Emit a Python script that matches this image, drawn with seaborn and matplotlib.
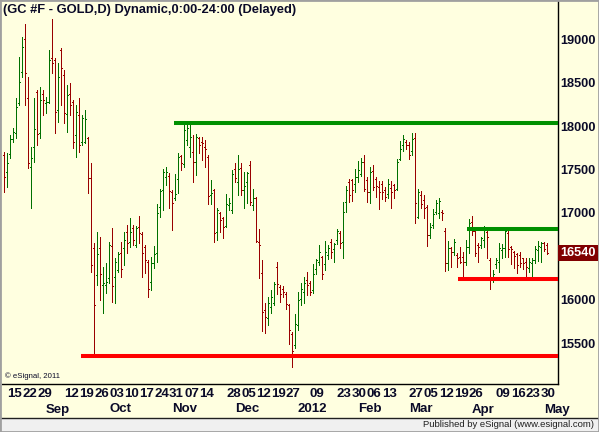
import numpy as np
import pandas as pd
import seaborn as sns
import matplotlib
matplotlib.use("Agg")
from matplotlib import pyplot as plt
from matplotlib import transforms
from matplotlib.patches import Rectangle
from matplotlib.lines import Line2D

# daily bars of GC #F (gold, price x10), 12 Aug 2011 - 2 May 2012
holidays = ["2011-09-05", "2011-11-24", "2011-12-26", "2012-01-02",
            "2012-01-16", "2012-02-20", "2012-04-06"]
dates = pd.date_range("2011-08-12", "2012-05-02",
                      freq=pd.offsets.CustomBusinessDay(holidays=holidays))

opens = [17666, 17474, 17674, 17851, 17916, 18261, 18626, 19003, 18319, 17532,
         17762, 18396, 17916, 18365, 18261, 18281, 18780, 18761, 18185, 18876,
         18588, 18135, 18365, 18281, 17897, 18127, 17812, 17820, 17858, 17397,
         16591, 16284, 16591, 16169, 16169, 16246, 16622, 16265, 16341, 16534,
         16591, 16783, 16668, 16821, 16630, 16840, 16756, 16610, 16437, 16199,
         16418, 16533, 17070, 17262, 17416, 17424, 17243, 17166, 17385, 17654,
         17558, 17838, 17762, 17704, 17589, 17858, 17819, 17762, 17646, 17205,
         17262, 16782, 16994, 16936, 16848, 17090, 17032, 17501, 17358, 17512,
         17262, 17358, 17550, 17090, 17166, 16667, 16302, 15880, 15784, 15918,
         15957, 16379, 16145, 16126, 16068, 15934, 15607, 15473, 15704, 16011,
         16087, 16222, 16195, 16107, 16356, 16433, 16491, 16414, 16510, 16663,
         16587, 16683, 16771, 16663, 17124, 17355, 17374, 17335, 17412, 17451,
         17585, 17374, 17240, 17477, 17393, 17297, 17335, 17259, 17220, 17286,
         17316, 17270, 17623, 17777, 17815, 17785, 17708, 17858, 16956, 17206,
         17148, 17071, 16745, 16860, 17006, 16994, 17014, 16791, 16418, 16591,
         16553, 16514, 16495, 16495, 16438, 16610, 16898, 16791, 16630, 16630,
         16687, 16783, 16457, 16227, 16407, 16430, 16572, 16591, 16764, 16610,
         16545, 16522, 16514, 16476, 16430, 16369, 16418, 16457, 16572, 16610,
         16649, 16630]
highs = [17705, 17685, 17897, 17973, 18319, 18799, 19029, 19171, 18569, 17762,
         18319, 18415, 18453, 18415, 18338, 18876, 19233, 18780, 18722, 18895,
         18645, 18473, 18492, 18300, 18242, 18319, 18127, 18185, 17877, 17570,
         16649, 16783, 16725, 16380, 16418, 16668, 16821, 16476, 16553, 16668,
         16783, 16860, 16937, 16860, 16852, 16963, 16782, 16629, 16456, 16494,
         16617, 17101, 17274, 17500, 17531, 17454, 17262, 17447, 17685, 17666,
         18030, 18038, 18011, 17896, 17908, 17877, 17869, 17838, 17666, 17378,
         17270, 17051, 17013, 16955, 17216, 17166, 17493, 17570, 17666, 17570,
         17474, 17474, 17596, 17270, 17178, 16813, 16456, 15964, 16034, 16110,
         16199, 16433, 16164, 16157, 16087, 15953, 15627, 15838, 16087, 16195,
         16260, 16318, 16210, 16414, 16471, 16633, 16502, 16671, 16625, 16702,
         16656, 16817, 16786, 17124, 17309, 17393, 17393, 17508, 17593, 17631,
         17662, 17412, 17527, 17547, 17412, 17362, 17362, 17297, 17385, 17362,
         17335, 17623, 17823, 17892, 17835, 17815, 17923, 17916, 17271, 17252,
         17206, 17090, 16879, 17044, 17148, 17167, 17033, 16822, 16676, 16610,
         16699, 16534, 16610, 16553, 16687, 16929, 16968, 16822, 16649, 16726,
         16852, 16814, 16484, 16342, 16484, 16649, 16637, 16802, 16791, 16622,
         16560, 16534, 16553, 16484, 16484, 16476, 16484, 16622, 16676, 16668,
         16668, 16649]
lows = [17244, 17301, 17628, 17820, 17858, 18242, 18569, 18242, 17513, 17052,
        17589, 17781, 17858, 18127, 18146, 18261, 18607, 17916, 18050, 18242,
        18031, 17935, 18127, 17743, 17647, 17705, 17781, 17801, 17225, 16322,
        15343, 16169, 15996, 15842, 16073, 16188, 15977, 15957, 16322, 16265,
        16399, 16534, 16610, 16630, 16610, 16648, 16264, 16302, 16034, 16110,
        16360, 16437, 16955, 17032, 17320, 17051, 16802, 17147, 17232, 17493,
        17531, 17781, 17646, 17358, 17435, 17685, 17608, 17531, 17097, 17097,
        16660, 16686, 16782, 16713, 16840, 17032, 16994, 17358, 17205, 17205,
        17051, 17109, 17090, 17032, 16667, 16245, 15642, 15611, 15707, 15842,
        15938, 16068, 15972, 16030, 15895, 15492, 15223, 15442, 15646, 15934,
        15964, 16049, 16049, 16080, 16299, 16395, 16241, 16337, 16471, 16479,
        16433, 16644, 16594, 16479, 17009, 17124, 17132, 17240, 17355, 17424,
        17247, 17124, 17117, 17259, 17182, 17047, 17155, 17132, 17170, 17055,
        17170, 17259, 17604, 17708, 17739, 17616, 17662, 16879, 16945, 17052,
        16937, 16622, 16706, 16822, 16983, 16937, 16918, 16330, 16342, 16380,
        16514, 16380, 16418, 16265, 16399, 16534, 16745, 16507, 16430, 16599,
        16610, 16476, 16123, 16200, 16361, 16315, 16484, 16495, 16495, 16407,
        16361, 16303, 16380, 16353, 16227, 16322, 16246, 16418, 16445, 16438,
        16560, 16530]
closes = [17417, 17570, 17851, 17935, 18223, 18511, 18914, 18607, 17570, 17628,
          17966, 17904, 18300, 18300, 18281, 18761, 18722, 18165, 18569, 18665,
          18146, 18357, 18242, 17820, 18165, 17781, 18089, 18081, 17405, 16399,
          15938, 16522, 16291, 16188, 16207, 16630, 16161, 16430, 16522, 16353,
          16687, 16649, 16783, 16687, 16821, 16763, 16533, 16456, 16122, 16418,
          16525, 16994, 17255, 17474, 17466, 17255, 17109, 17216, 17646, 17570,
          17954, 17973, 17877, 17589, 17877, 17781, 17808, 17731, 17193, 17224,
          16771, 17032, 16917, 16832, 17101, 17117, 17443, 17397, 17501, 17262,
          17308, 17454, 17128, 17166, 16675, 16625, 15861, 15803, 15964, 16034,
          16180, 16180, 16068, 16087, 15953, 15646, 15404, 15723, 15991, 16126,
          16195, 16172, 16087, 16299, 16452, 16548, 16299, 16548, 16594, 16548,
          16644, 16786, 16656, 17009, 17259, 17201, 17259, 17412, 17489, 17585,
          17278, 17240, 17470, 17297, 17309, 17240, 17240, 17182, 17335, 17240,
          17259, 17585, 17731, 17854, 17777, 17669, 17854, 17110, 17244, 17098,
          17052, 16745, 16841, 16983, 17110, 17136, 16994, 16418, 16591, 16553,
          16668, 16484, 16438, 16438, 16610, 16879, 16791, 16534, 16610, 16706,
          16822, 16726, 16227, 16292, 16457, 16599, 16599, 16791, 16584, 16584,
          16507, 16399, 16418, 16418, 16380, 16438, 16457, 16584, 16622, 16649,
          16584, 16540]

# support / resistance lines drawn on the chart
level_names = ["Nov high", "Sep low", "Mar range high", "Mar range low"]
level_prices = [18040, 15350, 16810, 16235]
level_start = ["2011-11-02", "2011-09-20", "2012-03-26", "2012-03-21"]
level_colors = ["#009000", "#ff0000", "#009000", "#ff0000"]

# axis labels
day_ticks = ["2011-08-15", "2011-08-22", "2011-08-29", "2011-09-12", "2011-09-19",
             "2011-09-26", "2011-10-03", "2011-10-10", "2011-10-17", "2011-10-24",
             "2011-10-31", "2011-11-07", "2011-11-14", "2011-11-28", "2011-12-05",
             "2011-12-12", "2011-12-19", "2011-12-27", "2012-01-09", "2012-01-23",
             "2012-01-30", "2012-02-06", "2012-02-13", "2012-02-27", "2012-03-05",
             "2012-03-12", "2012-03-19", "2012-03-26", "2012-04-09", "2012-04-16",
             "2012-04-23", "2012-04-30"]
month_labels = ["Sep", "Oct", "Nov", "Dec", "2012", "Feb", "Mar", "Apr", "May"]
month_at = ["2011-09-01", "2011-10-03", "2011-11-01", "2011-12-01", "2012-01-03",
            "2012-02-01", "2012-02-27", "2012-03-27", "2012-05-01"]
price_ticks = [15500, 16000, 16500, 17000, 17500, 18000, 18500, 19000]

bg = "#ffffe0"
up_col = "#007000"
down_col = "#990000"
txt_col = "#0a0a28"

sns.set_style("white", {"axes.facecolor": bg, "figure.facecolor": bg})
plt.rcParams["font.family"] = ["Liberation Sans", "DejaVu Sans"]
plt.rcParams["font.weight"] = "bold"

W, H = 599, 432
fig = plt.figure(figsize=(W / 100, H / 100), dpi=100)
ax = fig.add_axes([2 / W, 1 - 384 / H, 556 / W, 383 / H])

df = pd.DataFrame({"date": dates[:len(opens)], "open": opens, "high": highs,
                   "low": lows, "close": closes})
df["x"] = np.arange(len(df))
pos = {d: i for i, d in enumerate(df["date"].dt.strftime("%Y-%m-%d"))}
colors = np.where(df["close"] >= df["open"], up_col, down_col)

# OHLC bars, 1px wide
ax.vlines(df["x"], df["low"], df["high"], colors=colors, lw=0.6,
          antialiased=False, zorder=2)
ax.hlines(df["open"], df["x"] - 0.45, df["x"], colors=colors, lw=0.6,
          antialiased=False, zorder=2)
ax.hlines(df["close"], df["x"], df["x"] + 0.45, colors=colors, lw=0.6,
          antialiased=False, zorder=2)

xmax = 184.67
ax.set_xlim(-0.67, xmax)
ax.set_ylim(15028, 19440)

# horizontal levels
lev = pd.DataFrame({
    "level": level_names * 2,
    "x": [pos[d] - 0.5 for d in level_start] + [xmax] * len(level_names),
    "price": level_prices * 2,
})
sns.lineplot(data=lev, x="x", y="price", hue="level", palette=level_colors,
             hue_order=level_names, estimator=None, lw=2.9, legend=False,
             ax=ax, zorder=3, solid_capstyle="butt")

ax.set_xlabel("")
ax.set_ylabel("")

# axes frame
for s in ["top", "left"]:
    ax.spines[s].set_visible(False)
for s in ["right", "bottom"]:
    ax.spines[s].set_color("black")
    ax.spines[s].set_linewidth(1.0)

# the 16500 label sits under the last-price box, so it is not shown
ax.yaxis.tick_right()
ax.set_yticks(price_ticks)
ax.set_yticklabels(["" if p == 16500 else str(p) for p in price_ticks])
ax.tick_params(axis="y", length=0, pad=1.5, labelsize=9.2, labelcolor=txt_col)

ax.set_xticks([pos[d] for d in day_ticks])
ax.set_xticklabels([d[-2:] for d in day_ticks], ha="left")
ax.tick_params(axis="x", direction="in", length=3, width=0.8, color="black",
               pad=3.2, labelsize=9.5, labelcolor=txt_col)

trans = transforms.blended_transform_factory(ax.transData, fig.transFigure)
for lab, d in zip(month_labels, month_at):
    ax.text(pos[d], 1 - 409.5 / H, lab, transform=trans, ha="left", va="center",
            fontsize=9.5, color=txt_col, clip_on=False)

# last price box
tb = transforms.blended_transform_factory(fig.transFigure, ax.transData)
ax.text(560.5 / W, closes[-1], str(closes[-1]), transform=tb, ha="left",
        va="center", fontsize=9.2, color="white", clip_on=False, zorder=5,
        bbox=dict(facecolor="#800000", edgecolor="none", pad=1.6))

# title and credits
fig.text(3 / W, 1 - 10.5 / H, "(GC #F - GOLD,D) Dynamic,0:00-24:00 (Delayed)",
         ha="left", va="center", fontsize=9.3, color=txt_col)
fig.text(5 / W, 1 - 376.5 / H, "\u00a9 eSignal, 2011", ha="left", va="center",
         fontsize=5.6, fontweight="normal", color=txt_col)

fig.patches.append(Rectangle((0, 0), 1, 14.5 / H, transform=fig.transFigure,
                             facecolor="#f0f0f0", edgecolor="none", zorder=0))
fig.lines.append(Line2D([0, 1], [14.5 / H, 14.5 / H], transform=fig.transFigure,
                        color="#202020", lw=1.0))
fig.text(594 / W, 1 - 424.5 / H, "Published by eSignal (www.esignal.com)",
         ha="right", va="center", fontsize=6.8, fontweight="normal",
         color="#202020")
fig.patches.append(Rectangle((0, 0), 1, 1, transform=fig.transFigure,
                             facecolor="none", edgecolor="#a0a0a0", lw=2.0,
                             zorder=10))

fig.savefig("out.png", dpi=100, facecolor=bg)
